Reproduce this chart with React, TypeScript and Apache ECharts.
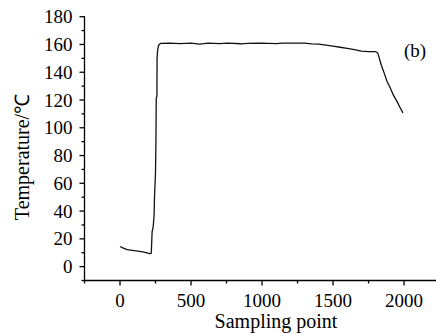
import React, { useEffect, useRef } from "react";
import * as echarts from "echarts";

const sampleX = [0, 20, 50, 100, 160, 212, 220, 222, 226, 234, 240, 243, 250, 253, 255, 260, 261, 265, 272, 285, 350, 420, 500, 560, 620, 700, 760, 850, 900, 980, 1050, 1100, 1150, 1250, 1300, 1350, 1400, 1450, 1500, 1550, 1600, 1650, 1700, 1750, 1800, 1815, 1826, 1840, 1856, 1880, 1903, 1925, 1950, 1970, 1992];
const temperature = [14.5, 13.5, 12.2, 11.5, 10.6, 9.4, 9.6, 14, 25, 29, 37, 50, 68, 90, 121, 123, 150, 156, 159.5, 160.8, 160.9, 160.6, 160.9, 160.3, 160.9, 160.6, 160.9, 160.5, 160.8, 160.9, 160.8, 160.6, 160.9, 160.9, 160.9, 160.5, 160.2, 159.5, 158.8, 158, 157.2, 156.3, 155.2, 154.9, 154.8, 153.8, 150, 145, 140.6, 133.5, 128.6, 123.5, 119, 115, 110.7];

const xMajorTicks = [0, 500, 1000, 1500, 2000];
const xMinorTicks = [-250, 250, 750, 1250, 1750];
const yMajorTicks = [0, 20, 40, 60, 80, 100, 120, 140, 160, 180];
const yMinorTicks = [-10, 10, 30, 50, 70, 90, 110, 130, 150, 170];

const xTitle = "Sampling point";
const yTitle = "Temperature/℃";
const panelLabel = "(b)";

const FONT = "Liberation Serif";

const X_MIN = -250, X_MAX = 2225, Y_MIN = -10, Y_MAX = 180;

function tickSeries(values: number[], dir: "x" | "y", len: number) {
  return {
    type: "custom",
    silent: true,
    clip: false,
    xAxisIndex: 0,
    yAxisIndex: 0,
    data: values.map((v) => (dir === "x" ? [v, Y_MIN] : [X_MIN, v])),
    renderItem: (_params: any, api: any) => {
      const p = api.coord([api.value(0), api.value(1)]);
      const shape =
        dir === "x"
          ? { x1: p[0], y1: p[1], x2: p[0], y2: p[1] + len }
          : { x1: p[0], y1: p[1], x2: p[0] - len, y2: p[1] };
      return { type: "line", shape, style: { stroke: "#000", lineWidth: 1.3 } };
    },
  };
}

export default function App() {
  const ref = useRef<HTMLDivElement>(null);
  useEffect(() => {
    if (!ref.current) return;
    const chart = echarts.init(ref.current, null, { renderer: "svg" });
    const data = sampleX.map((x, i) => [x, temperature[i]]);
    chart.setOption({
      animation: false,
      backgroundColor: "#fff",
      grid: { left: 84.5, right: 0, top: 16.7, bottom: 53.5, containLabel: false },
      xAxis: {
        type: "value", min: X_MIN, max: X_MAX, interval: 250, position: "bottom",
        axisLine: { show: true, onZero: false, lineStyle: { color: "#000", width: 1.3 } },
        axisTick: { show: false },
        axisLabel: { customValues: xMajorTicks, formatter: (v: number) => String(v), color: "#000", fontSize: 19, fontFamily: FONT, margin: 10 },
        splitLine: { show: false },
      },
      yAxis: {
        type: "value", min: Y_MIN, max: Y_MAX, interval: 10, position: "left",
        axisLine: { show: true, onZero: false, lineStyle: { color: "#000", width: 1.3 } },
        axisTick: { show: false },
        axisLabel: { customValues: yMajorTicks, formatter: (v: number) => String(v), color: "#000", fontSize: 19, fontFamily: FONT, margin: 12 },
        splitLine: { show: false },
      },
      series: [
        {
          type: "line",
          data,
          showSymbol: false,
          symbol: "none",
          lineStyle: { color: "#111", width: 1.3 },
        },
        tickSeries(xMajorTicks, "x", 5),
        tickSeries(xMinorTicks, "x", 3),
        tickSeries(yMajorTicks, "y", 5),
        tickSeries(yMinorTicks, "y", 3),
      ],
      graphic: [
        {
          type: "text", x: 276, y: 321,
          style: { text: xTitle, fill: "#000", fontFamily: FONT, fontSize: 20, textAlign: "center", textVerticalAlign: "middle" },
        },
        {
          type: "text", x: 22, y: 157, rotation: Math.PI / 2,
          style: { text: yTitle, fill: "#000", fontFamily: FONT, fontSize: 20, textAlign: "center", textVerticalAlign: "middle" },
        },
        {
          type: "text", x: 415, y: 50,
          style: { text: panelLabel, fill: "#000", fontFamily: FONT, fontSize: 19, textAlign: "center", textVerticalAlign: "middle" },
        },
      ],
    });
    return () => chart.dispose();
  }, []);
  return (
    <div
      ref={ref}
      style={{ position: "fixed", left: 0, top: 0, width: 436, height: 334, background: "#fff" }}
    />
  );
}
